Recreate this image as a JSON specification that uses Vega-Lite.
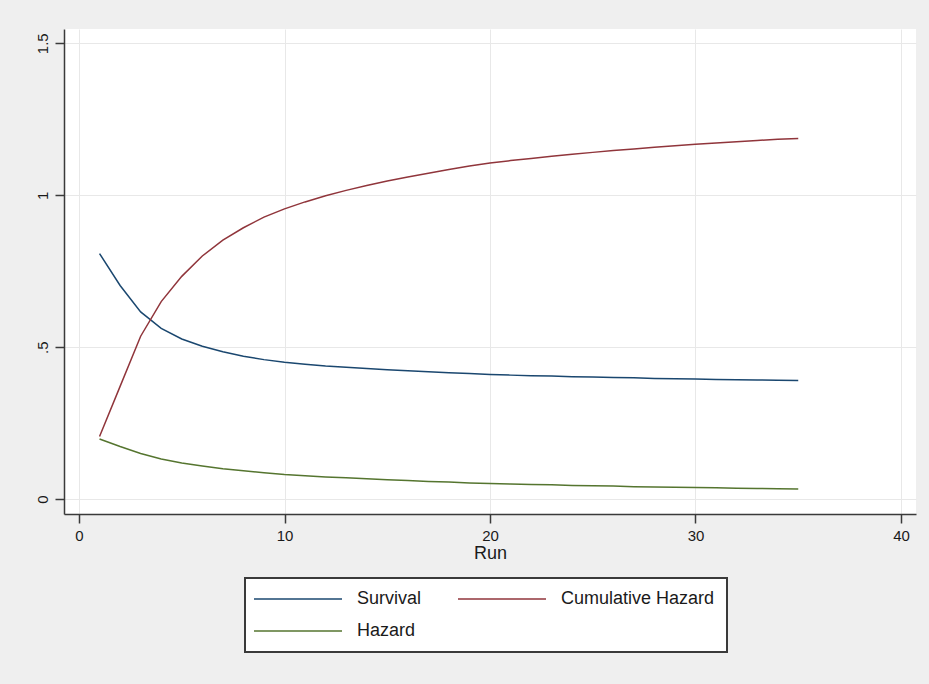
{
  "$schema": "https://vega.github.io/schema/vega-lite/v6.json",
  "autosize": {"type": "none"},
  "padding": {"left": 64, "top": 29, "right": 13, "bottom": 170},
  "width": 852,
  "height": 485,
  "background": "#efefef",
  "view": {"fill": "white", "stroke": null},
  "config": {
    "font": "Liberation Sans, Arial, sans-serif",
    "axis": {
      "domainColor": "#3a3a3a",
      "domainWidth": 1.5,
      "tickColor": "#3a3a3a",
      "tickSize": 9,
      "tickWidth": 1.5,
      "gridColor": "#e8e8e8",
      "gridWidth": 1,
      "labelFontSize": 15,
      "labelColor": "#1a1a1a",
      "titleColor": "#1a1a1a",
      "titleFontSize": 18,
      "titleFontWeight": "normal"
    },
    "legend": {
      "fillColor": "white",
      "strokeColor": "#3a3a3a",
      "padding": 12
    }
  },
  "data": {
    "values": [
      {"run": 1, "series": "Survival", "value": 0.808},
      {"run": 2, "series": "Survival", "value": 0.703},
      {"run": 3, "series": "Survival", "value": 0.616},
      {"run": 4, "series": "Survival", "value": 0.562},
      {"run": 5, "series": "Survival", "value": 0.527},
      {"run": 6, "series": "Survival", "value": 0.503},
      {"run": 7, "series": "Survival", "value": 0.485},
      {"run": 8, "series": "Survival", "value": 0.470},
      {"run": 9, "series": "Survival", "value": 0.459},
      {"run": 10, "series": "Survival", "value": 0.450},
      {"run": 11, "series": "Survival", "value": 0.444},
      {"run": 12, "series": "Survival", "value": 0.438},
      {"run": 13, "series": "Survival", "value": 0.434},
      {"run": 14, "series": "Survival", "value": 0.430},
      {"run": 15, "series": "Survival", "value": 0.426},
      {"run": 16, "series": "Survival", "value": 0.422},
      {"run": 17, "series": "Survival", "value": 0.419},
      {"run": 18, "series": "Survival", "value": 0.416},
      {"run": 19, "series": "Survival", "value": 0.413},
      {"run": 20, "series": "Survival", "value": 0.410},
      {"run": 21, "series": "Survival", "value": 0.408},
      {"run": 22, "series": "Survival", "value": 0.406},
      {"run": 23, "series": "Survival", "value": 0.405},
      {"run": 24, "series": "Survival", "value": 0.403},
      {"run": 25, "series": "Survival", "value": 0.402},
      {"run": 26, "series": "Survival", "value": 0.400},
      {"run": 27, "series": "Survival", "value": 0.399},
      {"run": 28, "series": "Survival", "value": 0.397},
      {"run": 29, "series": "Survival", "value": 0.396},
      {"run": 30, "series": "Survival", "value": 0.395},
      {"run": 31, "series": "Survival", "value": 0.394},
      {"run": 32, "series": "Survival", "value": 0.393},
      {"run": 33, "series": "Survival", "value": 0.392},
      {"run": 34, "series": "Survival", "value": 0.391},
      {"run": 35, "series": "Survival", "value": 0.390},
      {"run": 1, "series": "Cumulative Hazard", "value": 0.206},
      {"run": 2, "series": "Cumulative Hazard", "value": 0.371},
      {"run": 3, "series": "Cumulative Hazard", "value": 0.536},
      {"run": 4, "series": "Cumulative Hazard", "value": 0.650},
      {"run": 5, "series": "Cumulative Hazard", "value": 0.733},
      {"run": 6, "series": "Cumulative Hazard", "value": 0.800},
      {"run": 7, "series": "Cumulative Hazard", "value": 0.852},
      {"run": 8, "series": "Cumulative Hazard", "value": 0.893},
      {"run": 9, "series": "Cumulative Hazard", "value": 0.928},
      {"run": 10, "series": "Cumulative Hazard", "value": 0.955},
      {"run": 11, "series": "Cumulative Hazard", "value": 0.978},
      {"run": 12, "series": "Cumulative Hazard", "value": 0.998},
      {"run": 13, "series": "Cumulative Hazard", "value": 1.016},
      {"run": 14, "series": "Cumulative Hazard", "value": 1.032},
      {"run": 15, "series": "Cumulative Hazard", "value": 1.047},
      {"run": 16, "series": "Cumulative Hazard", "value": 1.060},
      {"run": 17, "series": "Cumulative Hazard", "value": 1.072},
      {"run": 18, "series": "Cumulative Hazard", "value": 1.085},
      {"run": 19, "series": "Cumulative Hazard", "value": 1.096},
      {"run": 20, "series": "Cumulative Hazard", "value": 1.106},
      {"run": 21, "series": "Cumulative Hazard", "value": 1.114},
      {"run": 22, "series": "Cumulative Hazard", "value": 1.121},
      {"run": 23, "series": "Cumulative Hazard", "value": 1.128},
      {"run": 24, "series": "Cumulative Hazard", "value": 1.135},
      {"run": 25, "series": "Cumulative Hazard", "value": 1.141},
      {"run": 26, "series": "Cumulative Hazard", "value": 1.147},
      {"run": 27, "series": "Cumulative Hazard", "value": 1.152},
      {"run": 28, "series": "Cumulative Hazard", "value": 1.158},
      {"run": 29, "series": "Cumulative Hazard", "value": 1.163},
      {"run": 30, "series": "Cumulative Hazard", "value": 1.168},
      {"run": 31, "series": "Cumulative Hazard", "value": 1.172},
      {"run": 32, "series": "Cumulative Hazard", "value": 1.176},
      {"run": 33, "series": "Cumulative Hazard", "value": 1.180},
      {"run": 34, "series": "Cumulative Hazard", "value": 1.184},
      {"run": 35, "series": "Cumulative Hazard", "value": 1.187},
      {"run": 1, "series": "Hazard", "value": 0.198},
      {"run": 2, "series": "Hazard", "value": 0.173},
      {"run": 3, "series": "Hazard", "value": 0.150},
      {"run": 4, "series": "Hazard", "value": 0.132},
      {"run": 5, "series": "Hazard", "value": 0.119},
      {"run": 6, "series": "Hazard", "value": 0.109},
      {"run": 7, "series": "Hazard", "value": 0.100},
      {"run": 8, "series": "Hazard", "value": 0.093},
      {"run": 9, "series": "Hazard", "value": 0.087},
      {"run": 10, "series": "Hazard", "value": 0.081},
      {"run": 11, "series": "Hazard", "value": 0.077},
      {"run": 12, "series": "Hazard", "value": 0.073},
      {"run": 13, "series": "Hazard", "value": 0.070},
      {"run": 14, "series": "Hazard", "value": 0.067},
      {"run": 15, "series": "Hazard", "value": 0.064},
      {"run": 16, "series": "Hazard", "value": 0.061},
      {"run": 17, "series": "Hazard", "value": 0.058},
      {"run": 18, "series": "Hazard", "value": 0.056},
      {"run": 19, "series": "Hazard", "value": 0.053},
      {"run": 20, "series": "Hazard", "value": 0.051},
      {"run": 21, "series": "Hazard", "value": 0.050},
      {"run": 22, "series": "Hazard", "value": 0.048},
      {"run": 23, "series": "Hazard", "value": 0.047},
      {"run": 24, "series": "Hazard", "value": 0.045},
      {"run": 25, "series": "Hazard", "value": 0.044},
      {"run": 26, "series": "Hazard", "value": 0.043},
      {"run": 27, "series": "Hazard", "value": 0.041},
      {"run": 28, "series": "Hazard", "value": 0.040},
      {"run": 29, "series": "Hazard", "value": 0.039},
      {"run": 30, "series": "Hazard", "value": 0.038},
      {"run": 31, "series": "Hazard", "value": 0.037},
      {"run": 32, "series": "Hazard", "value": 0.036},
      {"run": 33, "series": "Hazard", "value": 0.035},
      {"run": 34, "series": "Hazard", "value": 0.034},
      {"run": 35, "series": "Hazard", "value": 0.033}
    ]
  },
  "mark": {"type": "line", "strokeWidth": 1.5},
  "encoding": {
    "x": {
      "field": "run",
      "type": "quantitative",
      "title": "Run",
      "scale": {"domain": [-0.73, 40.73], "nice": false, "zero": false},
      "axis": {"values": [0, 10, 20, 30, 40], "labelPadding": 5, "titlePadding": 1}
    },
    "y": {
      "field": "value",
      "type": "quantitative",
      "title": null,
      "scale": {"domain": [-0.049, 1.547], "nice": false, "zero": false},
      "axis": {
        "values": [0, 0.5, 1, 1.5],
        "labelAngle": -90,
        "labelAlign": "center",
        "labelBaseline": "bottom",
        "labelPadding": 5,
        "labelExpr": "datum.value == 0.5 ? '.5' : format(datum.value, '~g')"
      }
    },
    "color": {
      "field": "series",
      "type": "nominal",
      "scale": {
        "domain": ["Survival", "Cumulative Hazard", "Hazard"],
        "range": ["#1a476f", "#90353b", "#55752f"]
      },
      "legend": {
        "title": null,
        "orient": "none",
        "legendX": 181,
        "legendY": 549,
        "direction": "horizontal",
        "columns": 2,
        "symbolType": "M-6,0H38",
        "symbolSize": 16,
        "symbolStrokeWidth": 1.5,
        "labelOffset": 82,
        "labelFontSize": 18,
        "labelColor": "#1a1a1a",
        "labelLimit": 300,
        "columnPadding": 33,
        "rowPadding": 14,
        "encode": {"legend": {"update": {"strokeWidth": {"value": 2}}}}
      }
    }
  }
}
